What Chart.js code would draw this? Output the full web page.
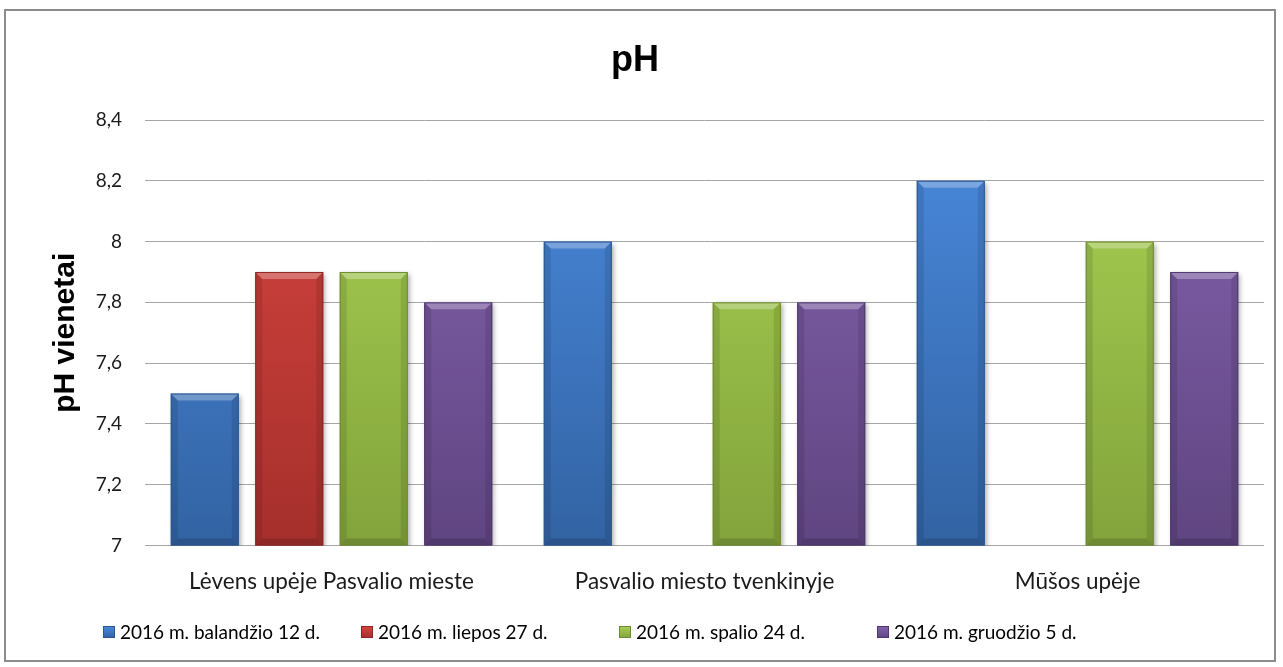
<!DOCTYPE html>
<html>
<head>
<meta charset="utf-8">
<script src="https://cdn.jsdelivr.net/npm/chart.js@4.4.1/dist/chart.umd.min.js"></script>
<style>
    body { margin: 0; background: #fff; }
    #frame {
        position: absolute; left: 4px; top: 9px;
        width: 1268px; height: 649px;
        border: 2px solid #8c8c8c;
        background: #fff;
    }
    canvas { display: block; }
</style>
</head>
<body>
<div id="frame"><canvas id="phChart" width="1268" height="649"></canvas></div>
<script>
// pH data
const categories = ['Lėvens upėje Pasvalio mieste', 'Pasvalio miesto tvenkinyje', 'Mūšos upėje'];
const seriesNames = ['2016 m. balandžio 12 d.', '2016 m. liepos 27 d.', '2016 m. spalio 24 d.', '2016 m. gruodžio 5 d.'];
const balandzio = [7.5, 8.0, 8.2];
const liepos = [7.9, null, null];
const spalio = [7.9, 7.8, 8.0];
const gruodzio = [7.8, 7.8, 7.9];
const yTicks = [7, 7.2, 7.4, 7.6, 7.8, 8, 8.2, 8.4];

// top colour, bottom colour, edge colour
const palette = [
    ['#4a8ade', '#3263a3', '#2b5690'],
    ['#d9463f', '#a52f2c', '#8c2624'],
    ['#aad253', '#82a33b', '#6c8a2f'],
    ['#8563b0', '#5f4581', '#4e386c']
];

function barGradient(index) {
    return function (context) {
        const chart = context.chart;
        const area = chart.chartArea;
        if (!area) return palette[index][0];
        const g = chart.ctx.createLinearGradient(0, area.top, 0, area.bottom);
        g.addColorStop(0, palette[index][0]);
        g.addColorStop(1, palette[index][1]);
        return g;
    };
}

// soft shadow + bevel like the Office style bars
const bevelPlugin = {
    id: 'bevel',
    beforeDatasetsDraw(chart) {
        const ctx = chart.ctx;
        ctx.save();
        ctx.shadowColor = 'rgba(0,0,0,0.35)';
        ctx.shadowBlur = 5;
        ctx.shadowOffsetX = 2;
        ctx.shadowOffsetY = 2;
    },
    afterDatasetsDraw(chart) {
        const ctx = chart.ctx;
        ctx.restore();
        const area = chart.chartArea;
        chart.data.datasets.forEach((ds, i) => {
            const meta = chart.getDatasetMeta(i);
            meta.data.forEach((bar, j) => {
                if (ds.data[j] == null) return;
                const p = bar.getProps(['x', 'y', 'base', 'width'], true);
                const l = p.x - p.width / 2, r = p.x + p.width / 2;
                const t = p.y, b = Math.min(p.base, area.bottom), d = 7;
                ctx.save();
                // top highlight
                ctx.fillStyle = 'rgba(255,255,255,0.28)';
                ctx.beginPath();
                ctx.moveTo(l, t); ctx.lineTo(r, t); ctx.lineTo(r - d, t + d); ctx.lineTo(l + d, t + d);
                ctx.closePath(); ctx.fill();
                // side shading
                ctx.fillStyle = 'rgba(0,0,0,0.10)';
                ctx.beginPath();
                ctx.moveTo(r, t); ctx.lineTo(r, b); ctx.lineTo(r - d, b - d); ctx.lineTo(r - d, t + d);
                ctx.closePath(); ctx.fill();
                ctx.beginPath();
                ctx.moveTo(l, t); ctx.lineTo(l, b); ctx.lineTo(l + d, b - d); ctx.lineTo(l + d, t + d);
                ctx.closePath(); ctx.fill();
                ctx.fillStyle = 'rgba(0,0,0,0.15)';
                ctx.beginPath();
                ctx.moveTo(l, b); ctx.lineTo(r, b); ctx.lineTo(r - d, b - d); ctx.lineTo(l + d, b - d);
                ctx.closePath(); ctx.fill();
                ctx.strokeStyle = palette[i][2];
                ctx.lineWidth = 1;
                ctx.strokeRect(l + 0.5, t + 0.5, p.width - 1, b - t - 1);
                ctx.restore();
            });
        });
    }
};

// legend in equal-width slots, like the Excel original
const slotLegend = {
    id: 'slotLegend',
    afterDraw(chart) {
        const ctx = chart.ctx;
        const slot = 258, startX = 97, y = 621, box = 12;
        ctx.save();
        ctx.font = '19px Lato';
        ctx.textBaseline = 'middle';
        ctx.textAlign = 'left';
        chart.data.datasets.forEach((ds, i) => {
            const x = startX + i * slot;
            const g = ctx.createLinearGradient(0, y - box / 2, 0, y + box / 2);
            g.addColorStop(0, palette[i][0]);
            g.addColorStop(1, palette[i][1]);
            ctx.fillStyle = g;
            ctx.fillRect(x, y - box / 2, box, box);
            ctx.strokeStyle = palette[i][2];
            ctx.lineWidth = 1;
            ctx.strokeRect(x + 0.5, y - box / 2 + 0.5, box - 1, box - 1);
            ctx.fillStyle = '#000';
            ctx.fillText(ds.label, x + box + 5, y + 1);
        });
        ctx.restore();
    }
};

const seriesValues = [balandzio, liepos, spalio, gruodzio];

new Chart(document.getElementById('phChart'), {
    type: 'bar',
    data: {
        labels: categories,
        datasets: seriesValues.map((vals, i) => ({
            label: seriesNames[i],
            data: vals,
            backgroundColor: barGradient(i),
            borderWidth: 0,
            categoryPercentage: 0.906,
            barPercentage: 0.805
        }))
    },
    plugins: [bevelPlugin, slotLegend],
    options: {
        responsive: false,
        animation: false,
        layout: { padding: { left: 0, right: 10, top: 0, bottom: 41.5 } },
        plugins: {
            title: {
                display: true,
                text: 'pH',
                color: '#000',
                font: { family: 'Liberation Sans, Arial', size: 36, weight: 'bold' },
                padding: { top: 28.4, bottom: 37.4 }
            },
            legend: { display: false },
            tooltip: { enabled: false }
        },
        scales: {
            x: {
                grid: { display: false, drawTicks: false },
                border: { display: false },
                ticks: {
                    color: '#1a1a1a',
                    font: { family: 'Lato', size: 22.5 },
                    padding: 23,
                    maxRotation: 0,
                    autoSkip: false
                }
            },
            y: {
                min: 7,
                max: 8.4,
                afterBuildTicks(scale) {
                    scale.ticks = yTicks.map(v => ({ value: v }));
                },
                afterFit(scale) {
                    scale.width = 139;
                },
                grid: { color: '#a6a6a6', drawTicks: false },
                border: { display: false },
                ticks: {
                    color: '#1a1a1a',
                    font: { family: 'Lato', size: 19 },
                    padding: 23,
                    callback: v => String(Math.round(v * 10) / 10).replace('.', ',')
                },
                title: {
                    display: true,
                    text: 'pH vienetai',
                    color: '#000',
                    font: { family: 'Liberation Sans, Arial', size: 30, weight: 'bold' },
                    padding: { top: 42, bottom: 0 }
                }
            }
        }
    }
});
</script>
</body>
</html>
